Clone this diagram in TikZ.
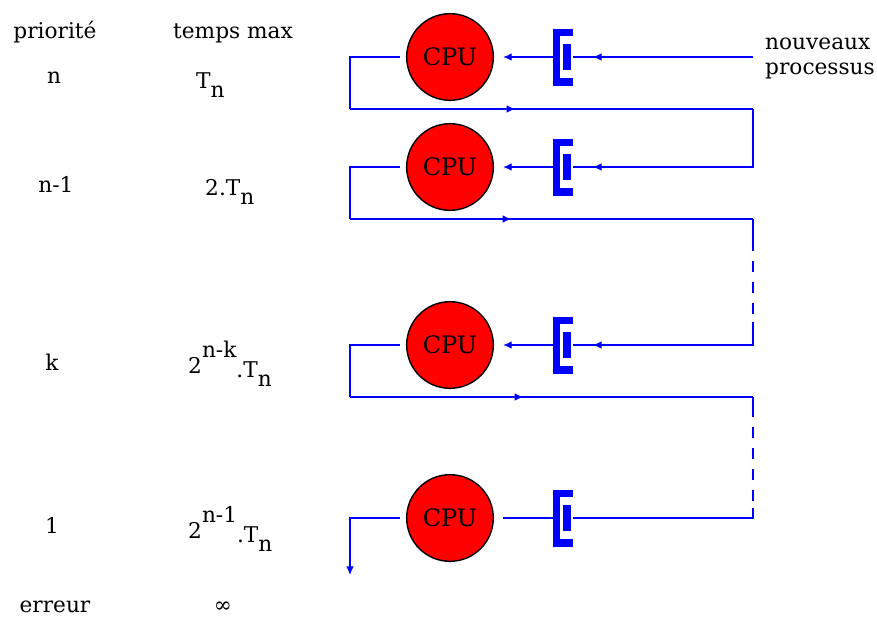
\documentclass[tikz,border=0pt]{standalone}
\usepackage{fontspec}
\setmainfont{DejaVu Serif}
\usetikzlibrary{arrows.meta,decorations.markings}

\tikzset{
    wire/.style={blue, line width=1.2pt},
    tip/.style={-{Latex[length=2.6mm,width=2.3mm]}},
    mid tip/.style={postaction={decorate}, decoration={markings, mark=at position #1 with {\arrow{Latex[length=2.6mm,width=2.3mm]}}}},
    gapline/.style={dash pattern=on 3.3mm off 3mm, dash phase=3.3mm}
}

\newcommand{\sub}[1]{\raisebox{-0.42em}{#1}}
\newcommand{\expo}[1]{\raisebox{0.72em}{#1}}

\begin{document}
\begin{tikzpicture}[
    x=0.3mm, y=-0.3mm,
    font=\fontsize{18.5}{21}\selectfont,
    cpu/.style={circle, draw=black, line width=1.2pt, fill=red, minimum size=26mm, inner sep=0pt, font=\fontsize{20.5}{22}\selectfont},
    queue/.style={minimum width=6mm, minimum height=17.1mm, inner sep=0pt, outer sep=0pt},
    lbl/.style={anchor=base, inner sep=0pt},
    val/.style={anchor=base west, inner sep=0pt}
]
\useasboundingbox (0,0) rectangle (877,617);

% Column heads
\node[lbl] (hprio) at (55,38) {priorité};
\node[lbl] (htime) at (233,38) {temps max};

% Priorities and time limits
\node[lbl] (prio1) at (54,83) {n};
\node[val] (time1) at (196,88) {T\sub{n}};
\node[lbl] (prio2) at (56,192) {n-1};
\node[val] (time2) at (205,195) {2.T\sub{n}};
\node[lbl] (prio3) at (52,370) {k};
\node[val] (time3) at (188,373) {2\expo{n-k}\raisebox{-0.2em}{.T\sub{n}}};
\node[lbl] (prio4) at (52,533) {1};
\node[val] (time4) at (188,538) {2\expo{n-1}\raisebox{-0.2em}{.T\sub{n}}};
\node[lbl] (prio5) at (55,612) {erreur};
\node[lbl] (time5) at (223,612) {∞};

% Processors and queues
\node[cpu] (cpu1) at (450,57) {CPU};
\node[cpu] (cpu2) at (450,167) {CPU};
\node[cpu] (cpu3) at (450,345) {CPU};
\node[cpu] (cpu4) at (450,518) {CPU};
\node[queue] (q1) at (563,57) {};
\node[queue] (q2) at (563,167) {};
\node[queue] (q3) at (563,345) {};
\node[queue] (q4) at (563,518) {};

\foreach \n in {1,...,4} {
    \fill[blue] (q\n.north west) rectangle ([xshift=2.2mm]q\n.south west);
    \fill[blue] (q\n.north west) rectangle ([yshift=-2.3mm]q\n.north east);
    \fill[blue] (q\n.south west) rectangle ([yshift=2.3mm]q\n.south east);
    \fill[blue] ([xshift=2.9mm,yshift=-4.6mm]q\n.north west) rectangle ([xshift=5.3mm,yshift=4.6mm]q\n.south west);
}

\node[anchor=north west, align=left, inner sep=0pt] (newproc) at (765,38) {nouveaux\\processus};

% Corners of the feedback lines
\coordinate (new) at (753,57);
\coordinate (b1) at (350,109);
\coordinate (c1) at (753,109);
\coordinate (b2) at (350,219);
\coordinate (c2) at (753,219);
\coordinate (b3) at (350,397);
\coordinate (c3) at (753,397);
\coordinate (out) at (350,575);

% Level n
\draw[wire, mid tip=-6mm] (new) -- (q1.east);
\draw[wire, tip, shorten >=2.7mm] (q1.west) -- (cpu1.east);
\draw[wire] ([xshift=-1.8mm]cpu1.west) -| (b1);
\draw[wire, mid tip=0.41] (b1) -- (c1);

% Level n-1
\draw[wire, mid tip=-6mm] (c1) |- (q2.east);
\draw[wire, tip, shorten >=2.7mm] (q2.west) -- (cpu2.east);
\draw[wire] ([xshift=-1.8mm]cpu2.west) -| (b2);
\draw[wire, mid tip=0.40] (b2) -- (c2);
\draw[wire] (c2) -- ++(0,32);
\draw[wire, gapline] (c2) ++(0,32) -- ++(0,71);

% Level k
\draw[wire, mid tip=-6mm] (c2) ++(0,103) |- (q3.east);
\draw[wire, tip, shorten >=2.7mm] (q3.west) -- (cpu3.east);
\draw[wire] ([xshift=-1.8mm]cpu3.west) -| (b3);
\draw[wire, mid tip=0.43] (b3) -- (c3);
\draw[wire] (c3) -- ++(0,20);
\draw[wire, gapline] (c3) ++(0,20) -- ++(0,91);

% Level 1
\draw[wire] (c3) ++(0,111) |- (q4.east);
\draw[wire, shorten >=2.7mm] (q4.west) -- (cpu4.east);
\draw[wire, tip] ([xshift=-1.8mm]cpu4.west) -| (out);

\end{tikzpicture}
\end{document}
